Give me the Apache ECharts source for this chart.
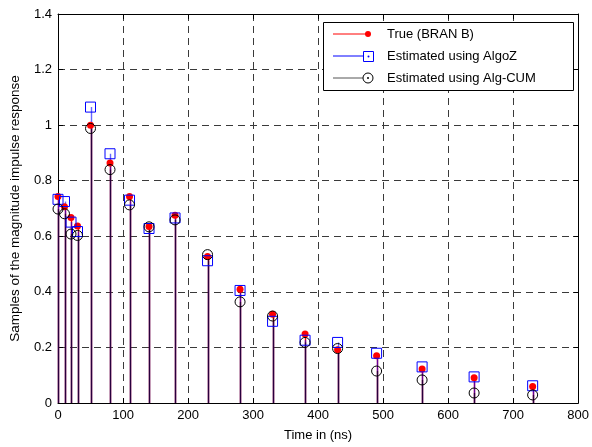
<!DOCTYPE html>
<html><head><meta charset="utf-8">
<script src="https://cdn.jsdelivr.net/npm/echarts@6/dist/echarts.min.js"></script>
<style>html,body{margin:0;padding:0;background:#fff}#c{width:592px;height:447px}</style>
</head><body><div id="c"></div>
<script>
const timeNs = [0,10,20,30,50,80,110,140,180,230,280,330,380,430,490,560,640,730];
const trueBranB = [0.743,0.706,0.668,0.637,1.000,0.864,0.743,0.635,0.676,0.527,0.409,0.319,0.248,0.192,0.170,0.122,0.091,0.059];
const algoZ = [0.733,0.725,0.651,0.617,1.065,0.897,0.730,0.628,0.666,0.512,0.405,0.294,0.226,0.218,0.179,0.130,0.094,0.062];
const algCum = [0.698,0.681,0.608,0.603,0.988,0.840,0.713,0.634,0.659,0.534,0.364,0.313,0.218,0.196,0.115,0.083,0.036,0.029];
const xTicks = [0,100,200,300,400,500,600,700,800];
const yTicks = [0,0.2,0.4,0.6,0.8,1,1.2,1.4];
const seriesNames = ['True (BRAN B)','Estimated using AlgoZ','Estimated using Alg-CUM'];
const xTitle = 'Time in (ns)';
const yTitle = 'Samples of the magnitude impulse response';

const FONT = '"Liberation Sans", Arial, Helvetica, sans-serif';
const chart = echarts.init(document.getElementById('c'), null, {renderer:'canvas'});

function pts(vals){ return timeNs.map((t,i)=>[t, vals[i]]); }
function stem(name, vals, color, opacity, z){
  return {
    type:'custom', name: name, data: pts(vals), z: z, silent:true,
    renderItem: function(params, api){
      const top = api.coord([api.value(0), api.value(1)]);
      const base = api.coord([api.value(0), 0]);
      const x = Math.round(top[0]) + 0.5;
      return {type:'line', shape:{x1:x, y1:top[1], x2:x, y2:base[1]},
        style:{stroke:color, lineWidth:1.4, opacity:opacity}};
    }
  };
}
const gridDash = {type:[7,5], color:'#3a3a3a', width:1};
const axisLbl = {fontFamily:FONT, fontSize:13, color:'#000'};
const LZ = 100;

const option = {
  animation:false,
  backgroundColor:'#fff',
  grid:{left:58, right:12, top:14, bottom:43, containLabel:false},
  xAxis:[{
    type:'value', min:xTicks[0], max:xTicks[xTicks.length-1], interval:100,
    name:xTitle, nameLocation:'middle', nameGap:26,
    nameTextStyle:{fontFamily:FONT, fontSize:13, color:'#000'},
    axisLine:{show:true, onZero:false, lineStyle:{color:'#000', width:1}},
    axisTick:{show:true, inside:true, length:5, lineStyle:{color:'#000'}},
    axisLabel:{...axisLbl, margin:6, formatter:(v)=>String(v)},
    splitLine:{show:true, lineStyle:gridDash}
  },{
    type:'value', position:'top', min:xTicks[0], max:xTicks[xTicks.length-1], interval:100,
    axisLine:{show:true, onZero:false, lineStyle:{color:'#000', width:1}},
    axisTick:{show:true, inside:true, length:5, lineStyle:{color:'#000'}},
    axisLabel:{show:false}, splitLine:{show:false}
  }],
  yAxis:[{
    type:'value', min:yTicks[0], max:yTicks[yTicks.length-1], interval:0.2,
    name:yTitle, nameLocation:'middle', nameGap:36, nameRotate:90,
    nameTextStyle:{fontFamily:FONT, fontSize:13.5, color:'#000'},
    axisLine:{show:true, onZero:false, lineStyle:{color:'#000', width:1}},
    axisTick:{show:true, inside:true, length:5, lineStyle:{color:'#000'}},
    axisLabel:{...axisLbl, margin:6, formatter:(v)=>{const k=yTicks.findIndex(t=>Math.abs(t-v)<1e-9);return k>=0?String(yTicks[k]):'';}},
    splitLine:{show:true, lineStyle:gridDash}
  },{
    type:'value', position:'right', min:yTicks[0], max:yTicks[yTicks.length-1], interval:0.2,
    axisLine:{show:true, onZero:false, lineStyle:{color:'#000', width:1}},
    axisTick:{show:true, inside:true, length:5, lineStyle:{color:'#000'}},
    axisLabel:{show:false}, splitLine:{show:false}
  }],
  series:[
    stem(seriesNames[0], trueBranB, '#ff0000', 1, 2),
    stem(seriesNames[1], algoZ, '#0000ff', 0.6, 3),
    stem(seriesNames[2], algCum, '#000000', 0.6, 4),
    {type:'scatter', name:seriesNames[0], data:pts(trueBranB), symbol:'circle', symbolSize:7, z:5,
      itemStyle:{color:'#ff0000', opacity:1}},
    {type:'scatter', name:seriesNames[1], data:pts(algoZ), symbol:'rect', symbolSize:10, z:6,
      itemStyle:{color:'rgba(0,0,0,0)', borderColor:'#0000ff', borderWidth:1, opacity:1}},
    {type:'scatter', name:seriesNames[2], data:pts(algCum), symbol:'circle', symbolSize:10, z:7,
      itemStyle:{color:'rgba(0,0,0,0)', borderColor:'#000000', borderWidth:1, opacity:1}}
  ],
  graphic:[
    {type:'rect', z:LZ, shape:{x:323.5, y:22.5, width:250, height:68}, style:{fill:'#fff', stroke:'#000', lineWidth:1}},
    {type:'line', z:LZ+1, shape:{x1:333, y1:34, x2:368, y2:34}, style:{stroke:'#ff0000', lineWidth:1}},
    {type:'circle', z:LZ+1, shape:{cx:368, cy:34, r:3}, style:{fill:'#ff0000'}},
    {type:'text', z:LZ+1, x:387, y:34, style:{text:seriesNames[0], font:'13px '+FONT, fill:'#000', verticalAlign:'middle'}},
    {type:'line', z:LZ+1, shape:{x1:333, y1:56, x2:363, y2:56}, style:{stroke:'#0000ff', lineWidth:1}},
    {type:'rect', z:LZ+1, shape:{x:363.5, y:51.5, width:10, height:10}, style:{fill:'none', stroke:'#0000ff', lineWidth:1}},
    {type:'circle', z:LZ+1, shape:{cx:368.5, cy:56.5, r:1}, style:{fill:'#0000ff'}},
    {type:'text', z:LZ+1, x:387, y:56, style:{text:seriesNames[1], font:'13px '+FONT, fill:'#000', verticalAlign:'middle'}},
    {type:'line', z:LZ+1, shape:{x1:333, y1:78, x2:363, y2:78}, style:{stroke:'#555', lineWidth:1}},
    {type:'circle', z:LZ+1, shape:{cx:368, cy:78, r:5}, style:{fill:'none', stroke:'#000', lineWidth:1}},
    {type:'circle', z:LZ+1, shape:{cx:368, cy:78, r:1}, style:{fill:'#000'}},
    {type:'text', z:LZ+1, x:387, y:78, style:{text:seriesNames[2], font:'13px '+FONT, fill:'#000', verticalAlign:'middle'}}
  ]
};
chart.setOption(option);
</script>
</body></html>
